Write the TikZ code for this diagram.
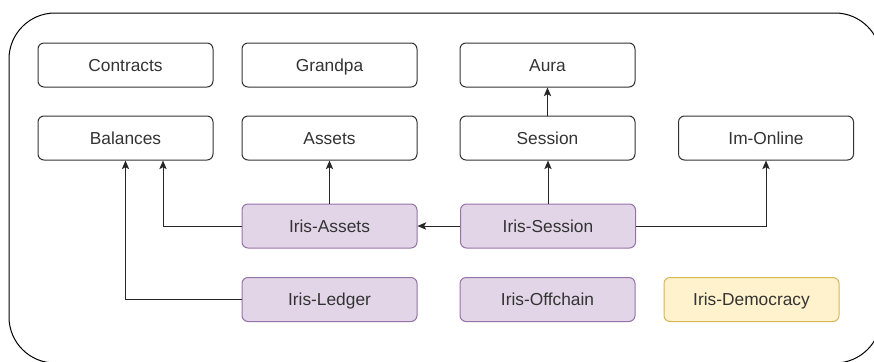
\documentclass[tikz,border=0pt]{standalone}
\usepackage{fontspec}
\setmainfont{Liberation Sans}
\usetikzlibrary{arrows.meta,calc}
\definecolor{purplefill}{HTML}{E1D5E7}
\definecolor{purpleline}{HTML}{9673A6}
\definecolor{yellowfill}{HTML}{FFF2CC}
\definecolor{yellowline}{HTML}{D6B656}
\definecolor{txt}{HTML}{333333}
\tikzset{
  box/.style={draw=black!80, line width=0.75pt, rounded corners=4.5pt, minimum width=131.25pt, minimum height=33pt, inner sep=0pt, font=\fontsize{13}{14}\selectfont, text=txt, fill=white, text height=9.3pt, text depth=0pt},
  iris/.style={box, draw=purpleline, fill=purplefill},
  gold/.style={box, draw=yellowline, fill=yellowfill},
  arr/.style={draw=black!85, line width=0.75pt, -{Stealth[length=6.5pt,width=5.5pt,inset=1.5pt]}},
}
\begin{document}
\begin{tikzpicture}[x=0.75pt,y=-0.75pt]
\useasboundingbox (0,0) rectangle (874,361);
\draw[line width=0.75pt, rounded corners=34.5pt] (9,13) rectangle (881,363);
\node[box] (con) at (125.5,65) {Contracts};
\node[box] (bal) at (125.5,138) {Balances};
\node[box] (gra) at (329.5,65) {Grandpa};
\node[box] (ass) at (329.5,138) {Assets};
\node[box] (aur) at (547.5,65) {Aura};
\node[box] (ses) at (547.5,138) {Session};
\node[box] (imo) at (766,138) {Im-Online};
\node[iris] (ia) at (329.5,226) {Iris-Assets};
\node[iris] (is) at (548,226) {Iris-Session};
\node[iris] (il) at (329.5,299.5) {Iris-Ledger};
\node[iris] (io) at (547.5,299.5) {Iris-Offchain};
\node[gold] (id) at (751.5,299.5) {Iris-Democracy};
\draw[arr] (ia.west) -| ($(bal.south)+(37.5,0)$);
\draw[arr] (il.west) -| (bal.south);
\draw[arr] (ia.north) -- (ass.south);
\draw[arr] (is.west) -- (ia.east);
\draw[arr] (is.north) -- (is.north |- ses.south);
\draw[arr] (ses.north) -- (aur.south);
\draw[arr] (is.east) -| (imo.south);
\end{tikzpicture}
\end{document}
